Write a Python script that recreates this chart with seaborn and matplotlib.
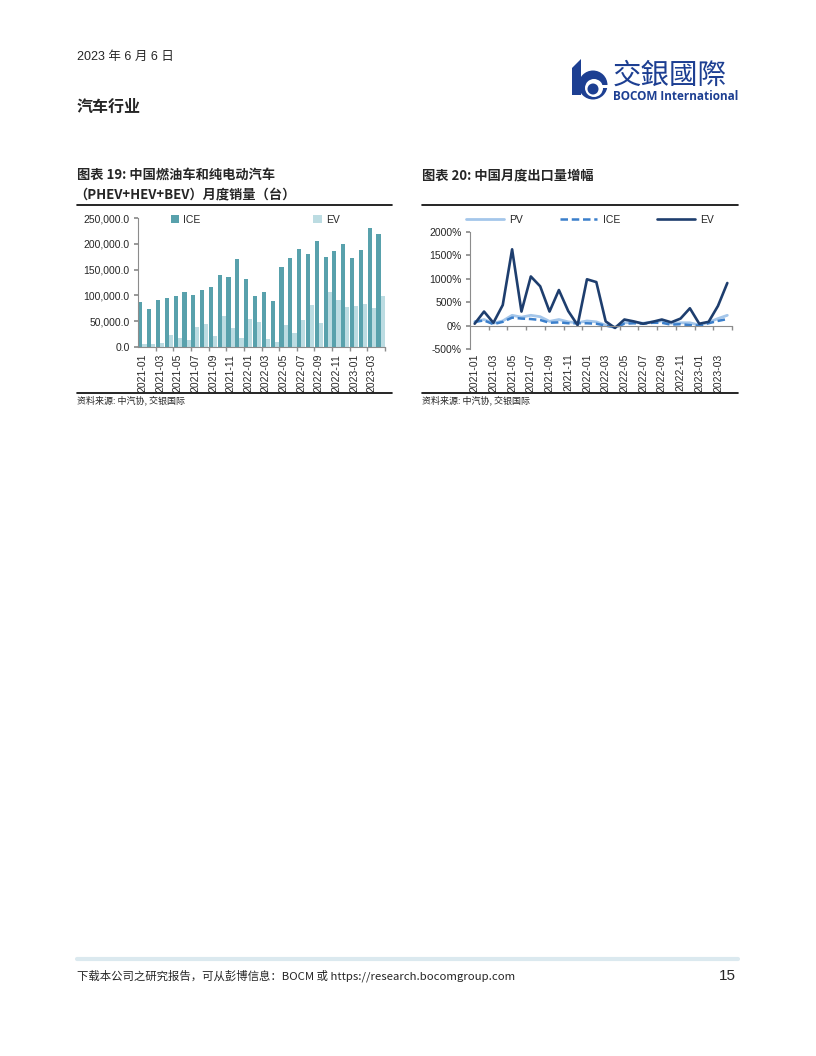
import numpy as np
import pandas as pd
import matplotlib
matplotlib.use("Agg")
import matplotlib.pyplot as plt
import seaborn as sns
from matplotlib.patches import Polygon, Circle, Rectangle
from matplotlib.lines import Line2D
from matplotlib.ticker import FuncFormatter, FixedLocator

# ---------------- data ----------------
months = ["2021-01", "2021-02", "2021-03", "2021-04", "2021-05", "2021-06", "2021-07",
          "2021-08", "2021-09", "2021-10", "2021-11", "2021-12", "2022-01", "2022-02",
          "2022-03", "2022-04", "2022-05", "2022-06", "2022-07", "2022-08", "2022-09",
          "2022-10", "2022-11", "2022-12", "2023-01", "2023-02", "2023-03", "2023-04"]

ice_sales = [87000, 74000, 91000, 95000, 99000, 107000, 101000, 111000, 117000, 140000,
             136000, 171000, 132000, 99000, 107000, 89000, 156000, 173000, 190000, 180000,
             205000, 175000, 186000, 200000, 173000, 188000, 231000, 219000]
ev_sales = [6000, 6000, 8000, 24000, 18000, 14000, 39000, 45000, 22000, 60000,
            37000, 18000, 55000, 49000, 16000, 10000, 43000, 28000, 53000, 82000,
            47000, 107000, 92000, 78000, 80000, 84000, 76000, 99000]

pv_growth = [80, 130, 50, 100, 220, 180, 220, 190, 90, 130, 80, 60, 100, 80,
             10, -30, 60, 70, 50, 80, 100, 50, 60, 60, 10, 70, 150, 220]
ice_growth = [80, 110, 30, 80, 170, 150, 140, 120, 60, 70, 50, 50, 50, 40,
              0, -40, 40, 50, 40, 60, 60, 20, 30, 10, 0, 50, 100, 140]
ev_growth = [40, 300, 60, 440, 1630, 300, 1050, 840, 300, 760, 310, 10, 990, 930,
             90, -50, 130, 90, 40, 80, 130, 70, 150, 370, 40, 80, 420, 910]

series_names = ["ICE", "EV"]
line_names = ["PV", "ICE", "EV"]

# ---------------- style ----------------
sns.set_theme(style="white")
plt.rcParams["font.family"] = ["Liberation Sans", "Noto Sans CJK SC", "DejaVu Sans"]
CJK = ["Noto Sans CJK SC", "Liberation Sans", "DejaVu Sans"]
NUM = ["Liberation Sans", "Noto Sans CJK SC", "DejaVu Sans"]

W, H = 816, 1056
fig = plt.figure(figsize=(W / 100, H / 100), dpi=100)

# page-level overlay axes in pixel coordinates (for decorations only)
page = fig.add_axes([0, 0, 1, 1], zorder=-1)
page.set_xlim(0, W)
page.set_ylim(H, 0)
page.axis("off")

def hline(x0, x1, y, color="black", lw=1.0):
    page.add_line(Line2D([x0, x1], [y, y], color=color, lw=lw))

def ptext(x, y, s, **kw):
    kw.setdefault("va", "center")
    kw.setdefault("ha", "left")
    page.text(x, y, s, **kw)

# ---------------- header ----------------
ptext(77, 57, "2023 年 6 月 6 日", fontsize=9, family=NUM)
ptext(77, 107, "汽车行业", fontsize=11.5, family=CJK, weight="bold")

logo_c = "#1d3f92"
page.add_patch(Polygon([[572, 68], [581, 59], [581, 95], [572, 95]], closed=True, color=logo_c, lw=0))
page.add_patch(Circle((593, 85), 14.5, color=logo_c, lw=0))
page.add_patch(Circle((594, 88), 9, color="white", lw=0))
page.add_patch(Rectangle((598, 84.5), 12, 3.5, color="white", lw=0))
page.add_patch(Circle((593, 89), 5.5, color=logo_c, lw=0))
ptext(613, 76, "交銀國際", fontsize=20.5, family=["Noto Sans CJK TC", "Noto Sans CJK SC"],
      color=logo_c, weight="medium")
ptext(613, 97, "BOCOM International", fontsize=8.5, family=["Open Sans", "Liberation Sans"],
      color=logo_c, weight="bold")

# ---------------- chart titles / rules ----------------
ptext(77, 175, "图表 19: 中国燃油车和纯电动汽车", fontsize=9.5, family=CJK, weight="bold")
ptext(74, 194, "（PHEV+HEV+BEV）月度销量（台）", fontsize=9.5, family=CJK, weight="bold")
hline(77, 392, 205, lw=1.2)
hline(77, 392, 393, lw=1.2)
ptext(77, 400, "资料来源: 中汽协, 交银国际", fontsize=6.5, family=CJK)

ptext(422, 175, "图表 20: 中国月度出口量增幅", fontsize=9.5, family=CJK, weight="bold")
hline(422, 738, 205, lw=1.2)
hline(422, 738, 393, lw=1.2)
ptext(422, 400, "资料来源: 中汽协, 交银国际", fontsize=6.5, family=CJK)

axis_grey = "#8c8c8c"
tick_fs = 7.5

def fx(x):
    return x / W

def fy(y):
    return 1 - y / H

# ---------------- chart 1: bars ----------------
ax1 = fig.add_axes([fx(138), fy(347), fx(385 - 138), (347 - 218) / H])
df1 = pd.DataFrame({
    "month": months * 2,
    "series": [series_names[0]] * len(months) + [series_names[1]] * len(months),
    "value": ice_sales + ev_sales,
})
ice_c = "#58a1ac"
ev_c = "#bcdce2"
sns.barplot(data=df1, x="month", y="value", hue="series", palette=[ice_c, ev_c],
            width=0.94, gap=0.0, ax=ax1, saturation=1, errorbar=None, legend=True,
            linewidth=0, edgecolor="none")
ax1.set_xlim(-0.5, len(months) - 0.5)
ax1.set_ylim(0, 250000)
ax1.set_yticks(np.arange(0, 250001, 50000))
ax1.yaxis.set_major_formatter(FuncFormatter(lambda v, p: f"{v:,.1f}"))
ax1.set_xticks(np.arange(0, len(months), 2))
ax1.set_xticklabels(months[::2], rotation=90, fontsize=tick_fs, family=NUM)
ax1.xaxis.set_minor_locator(FixedLocator(np.arange(1.5, len(months), 2)))
ax1.tick_params(axis="x", which="major", length=0, pad=5)
ax1.tick_params(axis="x", which="minor", length=3, color=axis_grey, direction="out", bottom=True)
ax1.tick_params(axis="y", length=3, color=axis_grey, direction="out", left=True,
                labelsize=tick_fs, pad=3)
for lab in ax1.get_yticklabels():
    lab.set_family(NUM)
ax1.set_xlabel("")
ax1.set_ylabel("")
for s in ["top", "right"]:
    ax1.spines[s].set_visible(False)
for s in ["left", "bottom"]:
    ax1.spines[s].set_color(axis_grey)
    ax1.spines[s].set_linewidth(0.8)
ax1.legend(loc="center left", bbox_to_anchor=(fx(171), fy(220)), bbox_transform=fig.transFigure,
           ncol=2, frameon=False, fontsize=tick_fs, handlelength=0.8, handleheight=0.8,
           handletextpad=0.4, columnspacing=10.8, borderaxespad=0, borderpad=0)

# ---------------- chart 2: lines ----------------
ax2 = fig.add_axes([fx(470), fy(349), fx(732 - 470), (349 - 232) / H])
idx = np.arange(len(months))
pv_c = "#a4c6ea"
icel_c = "#3b7fcb"
evl_c = "#1e3e6e"
sns.lineplot(x=idx, y=pv_growth, ax=ax2, color=pv_c, linewidth=2.0, label=line_names[0])
sns.lineplot(x=idx, y=ice_growth, ax=ax2, color=icel_c, linewidth=1.8, linestyle=(0, (3, 1.5)),
             label=line_names[1])
sns.lineplot(x=idx, y=ev_growth, ax=ax2, color=evl_c, linewidth=1.9, label=line_names[2])
ax2.spines["bottom"].set_position(("data", 0))
ax2.set_xlim(-0.5, len(months) - 0.5)
ax2.set_ylim(-500, 2000)
ax2.set_yticks(np.arange(-500, 2001, 500))
ax2.yaxis.set_major_formatter(FuncFormatter(lambda v, p: f"{v:.0f}%"))
ax2.set_xticks(np.arange(0, len(months), 2))
ax2.set_xticklabels(months[::2], rotation=90, fontsize=tick_fs, family=NUM)
ax2.xaxis.set_minor_locator(FixedLocator(np.arange(1.5, len(months), 2)))
ax2.tick_params(axis="x", which="major", length=0, pad=20)
ax2.tick_params(axis="x", which="minor", length=3, color=axis_grey, direction="out", bottom=True)
ax2.tick_params(axis="y", length=3, color=axis_grey, direction="out", left=True,
                labelsize=tick_fs, pad=3)
for lab in ax2.get_yticklabels():
    lab.set_family(NUM)
ax2.set_xlabel("")
ax2.set_ylabel("")
for s in ["top", "right"]:
    ax2.spines[s].set_visible(False)
for s in ["left", "bottom"]:
    ax2.spines[s].set_color(axis_grey)
    ax2.spines[s].set_linewidth(0.8)
ax2.legend(loc="center left", bbox_to_anchor=(fx(466), fy(220)), bbox_transform=fig.transFigure,
           ncol=3, frameon=False, fontsize=tick_fs, handlelength=3.6, handletextpad=0.5,
           columnspacing=3.6, borderaxespad=0, borderpad=0)

# ---------------- footer ----------------
hline(77, 738, 959, color="#dbe9ef", lw=3)
ptext(77, 976, "下载本公司之研究报告，可从彭博信息：BOCM 或 https://research.bocomgroup.com",
      fontsize=8.2, family=CJK)
ptext(736, 976, "15", fontsize=11, family=NUM, ha="right")

fig.savefig("out.png", dpi=100)
